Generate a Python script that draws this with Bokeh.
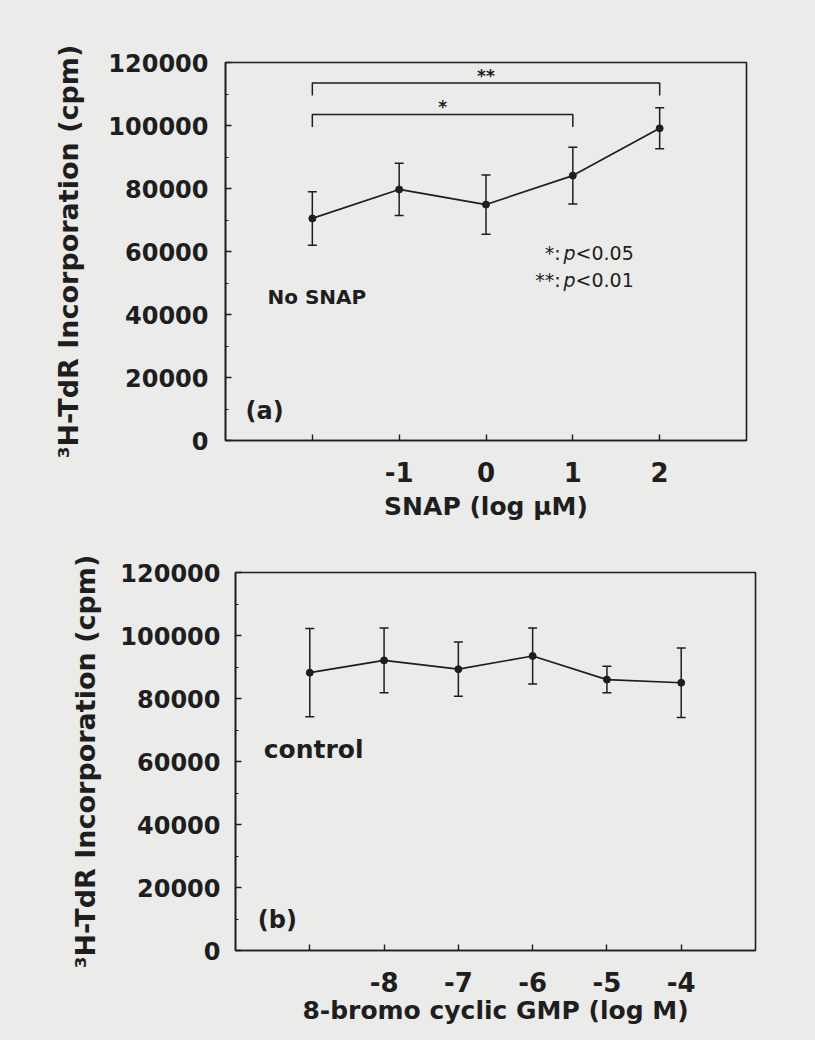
from bokeh.plotting import figure
from bokeh.layouts import column, row
from bokeh.models import (ColumnDataSource, Whisker, TeeHead, FixedTicker,
                          SingleIntervalTicker, Range1d, Label, BasicTickFormatter)
from bokeh.core.properties import value
from bokeh.embed import file_html
from bokeh.resources import INLINE

# ---------------- data ----------------
# Panel (a): SNAP
snap_x = [-2, -1, 0, 1, 2]
snap_mean = [70500, 79700, 74900, 84100, 99100]
snap_err = [8500, 8300, 9400, 9000, 6500]
snap_tick_labels = ["", "-1", "0", "1", "2"]
snap_baseline_label = "No SNAP"

# significance brackets in panel (a)
sig_from = [-2, -2]
sig_to = [1, 2]
sig_level = [103500, 113500]
sig_marks = ["*", "**"]
sig_mark_x = [-0.5, 0.0]

# Panel (b): 8-bromo cyclic GMP
gmp_x = [-9, -8, -7, -6, -5, -4]
gmp_mean = [88200, 92100, 89300, 93500, 86000, 85000]
gmp_err = [14000, 10300, 8600, 8900, 4200, 11000]
gmp_tick_labels = ["", "-8", "-7", "-6", "-5", "-4"]
gmp_baseline_label = "control"

y_ticks_step = 20000
y_max = 120000

INK = "#1e1e1e"
PAPER = "#ebebea"
FONT = "DejaVu Sans"


def make_panel(xs, means, errs, tick_labels, x_range, xlabel,
               frame_left, frame_top, frame_w, frame_h, bottom, right,
               ylab_standoff, ytick_standoff, xlab_standoff):
    p = figure(frame_width=frame_w, frame_height=frame_h,
               x_range=Range1d(*x_range), y_range=Range1d(0, y_max),
               output_backend="svg", toolbar_location=None,
               min_border_left=frame_left, min_border_top=frame_top,
               min_border_bottom=bottom, min_border_right=right)
    p.background_fill_color = PAPER
    p.border_fill_color = PAPER
    p.outline_line_color = INK
    p.outline_line_width = 1.6
    p.xgrid.visible = False
    p.ygrid.visible = False

    # axes
    p.xaxis.ticker = FixedTicker(ticks=xs)
    p.xaxis.major_label_overrides = {x: lab for x, lab in zip(xs, tick_labels)}
    p.yaxis.ticker = SingleIntervalTicker(interval=y_ticks_step, num_minor_ticks=2)
    p.yaxis.formatter = BasicTickFormatter(use_scientific=False)
    for ax in (p.xaxis, p.yaxis):
        ax.axis_line_color = INK
        ax.axis_line_width = 1.6
        ax.major_tick_line_color = INK
        ax.major_tick_line_width = 1.4
        ax.major_tick_in = 6
        ax.major_tick_out = 0
        ax.minor_tick_line_color = INK
        ax.minor_tick_in = 3
        ax.minor_tick_out = 0
        ax.major_label_text_font = FONT
        ax.major_label_text_font_style = "bold"
        ax.major_label_text_color = INK
        ax.axis_label_text_font = FONT
        ax.axis_label_text_font_style = "bold"
        ax.axis_label_text_color = INK
    p.xaxis.minor_tick_line_color = None
    p.xaxis.major_label_text_font_size = "26px"
    p.xaxis.major_label_standoff = 21
    p.xaxis.axis_label = xlabel
    p.xaxis.axis_label_text_font_size = "25px"
    p.xaxis.axis_label_standoff = xlab_standoff
    p.yaxis.major_label_text_font_size = "24px"
    p.yaxis.major_label_standoff = ytick_standoff
    p.yaxis.axis_label = "³H-TdR Incorporation (cpm)"
    p.yaxis.axis_label_text_font_size = "27px"
    p.yaxis.axis_label_standoff = ylab_standoff

    src = ColumnDataSource(dict(
        x=xs, y=means,
        lo=[m - e for m, e in zip(means, errs)],
        hi=[m + e for m, e in zip(means, errs)]))
    p.add_layout(Whisker(base="x", lower="lo", upper="hi", source=src,
                         line_color=INK, line_width=1.5,
                         lower_head=TeeHead(size=9, line_color=INK, line_width=1.5),
                         upper_head=TeeHead(size=9, line_color=INK, line_width=1.5)))
    p.line("x", "y", source=src, line_color=INK, line_width=1.7)
    p.scatter("x", "y", source=src, size=7, fill_color=INK, line_color=INK)
    return p


def note(p, x, y, text, size, style="normal", align="left", x_offset=0):
    p.add_layout(Label(x=x, y=y, text=text, text_align=align, x_offset=x_offset,
                       text_font=FONT, text_font_style=style,
                       text_font_size=size, text_color=INK,
                       text_baseline="alphabetic"))


# ---------------- panel (a) ----------------
pa = make_panel(snap_x, snap_mean, snap_err, snap_tick_labels, (-3, 3),
                "SNAP (log μM)", 225, 62, 521, 378, 84, 69,
                ylab_standoff=21, ytick_standoff=17, xlab_standoff=7)

drop = 4000
bx, by = [], []
for x0, x1, lvl in zip(sig_from, sig_to, sig_level):
    bx.append([x0, x0, x1, x1])
    by.append([lvl - drop, lvl, lvl, lvl - drop])
pa.multi_line(bx, by, line_color=INK, line_width=1.5)
pa.text(x=sig_mark_x, y=sig_level, text=sig_marks, text_align="center",
        text_baseline="alphabetic", y_offset=-7, text_font=value(FONT),
        text_font_style="bold", text_font_size="17px", text_color=INK)

for ypos, stars, pv in [(59400, "*:", "<0.05"), (51100, "**:", "<0.01")]:
    note(pa, 0.893, ypos, stars, "19px", align="right", x_offset=-3)
    note(pa, 0.893, ypos, "p", "19px", style="italic")
    note(pa, 0.893, ypos, pv, "19px", x_offset=12)

note(pa, -2.516, 45500, snap_baseline_label, "20px", style="bold")
note(pa, -2.77, 9400, "(a)", "24px", style="bold")

# ---------------- panel (b) ----------------
pb = make_panel(gmp_x, gmp_mean, gmp_err, gmp_tick_labels, (-10, -3),
                "8-bromo cyclic GMP (log M)", 235, 48, 520, 378, 90, 60,
                ylab_standoff=16, ytick_standoff=15, xlab_standoff=1)
note(pb, -9.62, 63800, gmp_baseline_label, "25px", style="bold")
note(pb, -9.70, 9800, "(b)", "24px", style="bold")

bg = {"background-color": PAPER}
layout = column(row(pa, styles=bg), row(pb, styles=bg), spacing=0, styles=bg)
open("out.html", "w").write(file_html(layout, INLINE))
